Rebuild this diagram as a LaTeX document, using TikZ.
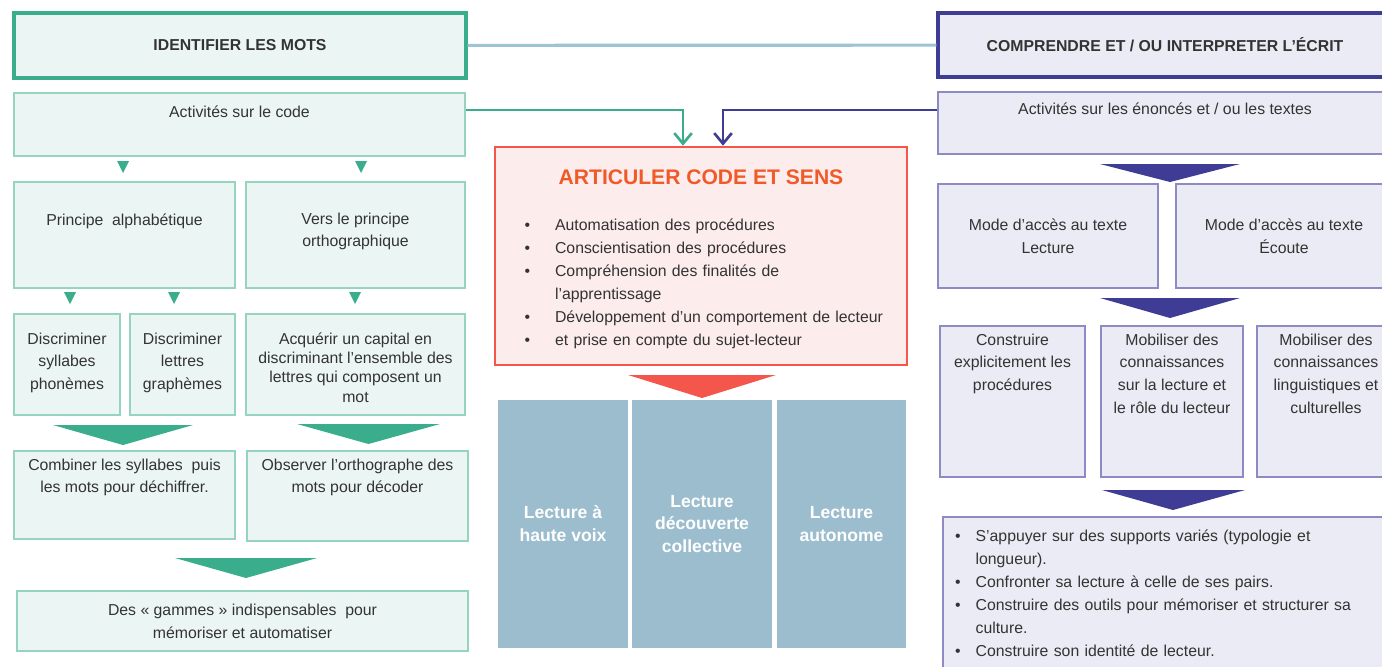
\documentclass[tikz,border=0pt]{standalone}
\usepackage{fontspec}
\setmainfont{Liberation Sans}
\usepackage{enumitem}
\usetikzlibrary{positioning,arrows.meta}
\definecolor{grn}{HTML}{3AAE8C}
\definecolor{grnline}{HTML}{96D4C0}
\definecolor{grnfill}{HTML}{EBF6F4}
\definecolor{pur}{HTML}{3F3C95}
\definecolor{purline}{HTML}{8E8AC4}
\definecolor{purfill}{HTML}{EBEBF5}
\definecolor{redl}{HTML}{F4564C}
\definecolor{redfill}{HTML}{FDECEC}
\definecolor{redtxt}{HTML}{F05A28}
\definecolor{colbg}{HTML}{9BBDCE}
\definecolor{linkbl}{HTML}{9DC3D4}
\definecolor{txt}{HTML}{333333}
\begin{document}
\begin{tikzpicture}[x=0.02cm,y=-0.02cm,
  every node/.style={font=\fontsize{9}{13}\selectfont,text=txt},
  gtop/.style={draw=grn,line width=2pt,fill=grnfill,font=\fontsize{9}{13}\selectfont\bfseries},
  gbox/.style={draw=grnline,line width=0.9pt,fill=grnfill},
  ptop/.style={draw=pur,line width=2pt,fill=purfill,font=\fontsize{9}{13}\selectfont\bfseries},
  pbox/.style={draw=purline,line width=0.9pt,fill=purfill},
  rbox/.style={draw=redl,line width=1.5pt,fill=redfill},
  col/.style={fill=colbg,minimum height=4.96cm,text=white,align=center,font=\fontsize{10}{13}\selectfont\bfseries},
  lbl/.style={inner sep=0pt,align=center},
  link/.style={draw=linkbl,line width=1.8pt},
  garr/.style={draw=grn,line width=1.5pt,-{Straight Barb[length=6pt,width=10pt]}},
  parr/.style={draw=pur,line width=1.5pt,-{Straight Barb[length=6pt,width=10pt]}}]
\useasboundingbox (0,0) rectangle (1382,666);
\clip (0,0) rectangle (1382,666);
% identifier les mots
\node[gtop,minimum width=9.04cm,minimum height=1.30cm] (ident) at (240,45.5) {IDENTIFIER LES MOTS};
\node[gbox,minimum width=9.02cm,minimum height=1.26cm] (code) at (239.5,124.5) {};
\node[lbl,below=0.27cm of code.north] (codet) {Activités sur le code};
\node[gbox,minimum width=4.42cm,minimum height=2.12cm] (alpha) at (124.5,235) {};
\node[lbl,below=0.64cm of alpha.north] (alphat) {Principe~ alphabétique};
\node[gbox,minimum width=4.38cm,minimum height=2.12cm] (ortho) at (355.5,235) {};
\node[lbl,below=0.62cm of ortho.north] (orthot) {Vers le principe\\orthographique};
\node[gbox,minimum width=2.12cm,minimum height=2.02cm] (syl) at (67,364.5) {};
\node[lbl,below=0.38cm of syl.north] (sylt) {Discriminer\\syllabes\\phonèmes};
\node[gbox,minimum width=2.10cm,minimum height=2.02cm] (let) at (182.5,364.5) {};
\node[lbl,below=0.38cm of let.north] (lett) {Discriminer\\lettres\\graphèmes};
\node[gbox,minimum width=4.38cm,minimum height=2.02cm] (capital) at (355.5,364.5) {};
\node[lbl,below=0.38cm of capital.north,font=\fontsize{9}{11}\selectfont] (capitalt) {Acquérir un capital en\\discriminant l’ensemble des\\lettres qui composent un\\mot};
\node[gbox,minimum width=4.42cm,minimum height=1.76cm] (comb) at (124.5,495) {};
\node[lbl,below=0.16cm of comb.north] (combt) {Combiner les syllabes~ puis\\les mots pour déchiffrer.};
\node[gbox,minimum width=4.42cm,minimum height=1.80cm] (obs) at (357.5,496) {};
\node[lbl,below=0.16cm of obs.north] (obst) {Observer l’orthographe des\\mots pour décoder};
\node[gbox,minimum width=9.02cm,minimum height=1.20cm,align=center] (gam) at (242.5,621) {Des « gammes » indispensables~ pour\\mémoriser et automatiser};
\foreach \x/\y in {123/161,361/161,70/292,174/292,355/292}
  \fill[grn] (\x-6,\y) -- (\x+6,\y) -- (\x,\y+12) -- cycle;
\foreach \a/\b/\y in {53/193/425,297/440/424,175/317/558}
  \fill[grn] (\a,\y) -- (\b,\y) -- ({(\a+\b)/2},\y+20) -- cycle;
% articuler code et sens
\node[rbox,minimum width=8.24cm,minimum height=4.36cm] (art) at (701,256) {};
\node[lbl,below=0.48cm of art.north,text=redtxt,font=\fontsize{12}{14}\selectfont\bfseries] (artt) {ARTICULER CODE ET SENS};
\node[inner sep=0pt,text width=7.4cm,anchor=north west] (artl) at ([xshift=0.6cm,yshift=-1.24cm]art.north west) {%
\begin{itemize}[nosep,leftmargin=0.62cm,labelsep=0.5cm]
\item Automatisation des procédures
\item Conscientisation des procédures
\item Compréhension des finalités de\newline l’apprentissage
\item Développement d’un comportement de lecteur
\item et prise en compte du sujet-lecteur
\end{itemize}};
\fill[redl] (628,375) -- (776,375) -- (702,398) -- cycle;
\node[col,minimum width=2.60cm] (c1) at (563,524) {Lecture à\\haute voix};
\node[col,minimum width=2.80cm] (c2) at (702,524) {Lecture\\découverte\\collective};
\node[col,minimum width=2.58cm] (c3) at (841.5,524) {Lecture\\autonome};
% comprendre et interpreter
\node[ptop,minimum width=9.08cm,minimum height=1.28cm] (compr) at (1165,45) {COMPRENDRE ET / OU INTERPRETER L\symbol{"0027}ÉCRIT};
\node[pbox,minimum width=9.08cm,minimum height=1.24cm] (enon) at (1165,123) {};
\node[lbl,below=0.22cm of enon.north] (enont) {Activités sur les énoncés et / ou les textes};
\node[pbox,minimum width=4.40cm,minimum height=2.08cm,align=center] (lect) at (1048,236) {Mode d’accès au texte\\Lecture};
\node[pbox,minimum width=4.32cm,minimum height=2.08cm,align=center] (ecou) at (1284,236) {Mode d’accès au texte\\Écoute};
\node[pbox,minimum width=2.90cm,minimum height=3.02cm] (proc) at (1012.5,401.5) {};
\node[lbl,below=0.16cm of proc.north] (proct) {Construire\\explicitement les\\procédures};
\node[pbox,minimum width=2.84cm,minimum height=3.02cm] (conn) at (1172,401.5) {};
\node[lbl,below=0.16cm of conn.north] (connt) {Mobiliser des\\connaissances\\sur la lecture et\\le rôle du lecteur};
\node[pbox,minimum width=2.76cm,minimum height=3.02cm] (ling) at (1326,401.5) {};
\node[lbl,below=0.16cm of ling.north] (lingt) {Mobiliser des\\connaissances\\linguistiques et\\culturelles};
\node[pbox,minimum width=8.98cm,minimum height=3.26cm] (pist) at (1167.5,598.5) {};
\node[inner sep=0pt,text width=8.4cm,anchor=north west] (pistl) at ([xshift=0.26cm,yshift=-0.05cm]pist.north west) {%
\begin{itemize}[nosep,leftmargin=0.4cm,labelsep=0.3cm]
\item S’appuyer sur des supports variés (typologie et\newline longueur).
\item Confronter sa lecture à celle de ses pairs.
\item Construire des outils pour mémoriser et structurer sa\newline culture.
\item Construire son identité de lecteur.
\end{itemize}};
\fill[pur] (1100,164) -- (1240,164) -- (1170,182) -- cycle;
\fill[pur] (1100,298) -- (1240,298) -- (1170,318) -- cycle;
\fill[pur] (1102,490) -- (1245,490) -- (1173,510) -- cycle;
% liens
\draw[link] (ident) -- (compr);
\draw[garr] ([yshift=0.29cm]code.east) -| ([xshift=-0.36cm]art.north);
\draw[parr] ([yshift=0.26cm]enon.west) -| ([xshift=0.44cm]art.north);
\end{tikzpicture}
\end{document}
